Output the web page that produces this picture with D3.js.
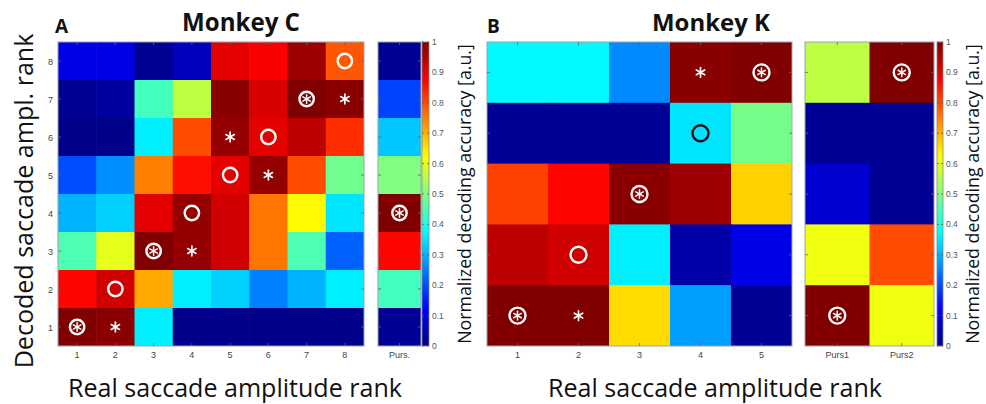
<!DOCTYPE html>
<html><head><meta charset="utf-8">
<script src="https://cdn.jsdelivr.net/npm/d3@7"></script>
<style>body{margin:0;background:#fff} svg{display:block}</style>
</head><body>
<svg id="chart" width="986" height="404"></svg>
<script>
// ---------- DATA ----------
const realRanksC = ["1","2","3","4","5","6","7","8"];
const decodedRanksC = ["8","7","6","5","4","3","2","1"];
const valuesC = [
  [0.10,0.10,0.02,0.06,0.90,0.88,0.97,0.79],
  [0.02,0.03,0.44,0.56,0.99,0.91,1.00,0.99],
  [0.01,0.01,0.36,0.80,0.98,0.90,0.94,0.83],
  [0.20,0.265,0.75,0.86,0.90,0.98,0.80,0.485],
  [0.30,0.33,0.90,0.98,0.92,0.76,0.63,0.35],
  [0.45,0.60,1.00,0.98,0.92,0.76,0.45,0.22],
  [0.87,0.92,0.71,0.36,0.33,0.25,0.30,0.36],
  [1.00,0.99,0.36,0.01,0.01,0.01,0.01,0.01]
];
const pursuitColsC = ["Purs."];
const pursuitValuesC = [[0.02],[0.19],[0.32],[0.50],[1.00],[0.87],[0.44],[0.02]];
// markers: [decoded rank, real rank, type]  o = circle, a = asterisk, oa = circled asterisk, ob = black circle
const markersC = [
  ["8","8","o"],["7","7","oa"],["7","8","a"],["6","5","a"],["6","6","o"],
  ["5","5","o"],["5","6","a"],["4","4","o"],["3","3","oa"],["3","4","a"],
  ["2","2","o"],["1","1","oa"],["1","2","a"]
];
const pursuitMarkersC = [["4","Purs.","oa"]];

const realRanksK = ["1","2","3","4","5"];
const decodedRanksK = ["5","4","3","2","1"];
const valuesK = [
  [0.37,0.37,0.26,0.99,1.00],
  [0.02,0.02,0.02,0.35,0.49],
  [0.81,0.87,0.99,0.97,0.67],
  [0.94,0.92,0.36,0.04,0.10],
  [1.00,1.00,0.66,0.28,0.02]
];
const pursuitColsK = ["Purs1","Purs2"];
const pursuitValuesK = [
  [0.56,1.00],
  [0.02,0.02],
  [0.08,0.02],
  [0.61,0.80],
  [1.00,0.61]
];
const markersK = [
  ["5","4","a"],["5","5","oa"],["4","4","ob"],["3","3","oa"],
  ["2","2","o"],["1","1","oa"],["1","2","a"]
];
const pursuitMarkersK = [["5","Purs2","oa"],["1","Purs1","oa"]];

const colorbarTicks = [0,0.1,0.2,0.3,0.4,0.5,0.6,0.7,0.8,0.9,1];
const titles = ["Monkey C","Monkey K"];
const panelLetters = ["A","B"];
const xLabel = "Real saccade amplitude rank";
const yLabel = "Decoded saccade ampl. rank";
const cbLabel = "Normalized decoding accuracy [a.u.]";

// ---------- HELPERS ----------
function jet(v){
  v = Math.max(0, Math.min(1, v));
  let r,g,b;
  if (v < 0.125){ r=0; g=0; b=0.5+4*v; }
  else if (v < 0.375){ r=0; g=4*(v-0.125); b=1; }
  else if (v < 0.625){ r=4*(v-0.375); g=1; b=1-4*(v-0.375); }
  else if (v < 0.875){ r=1; g=1-4*(v-0.625); b=0; }
  else { r=1-4*(v-0.875); g=0; b=0; }
  return d3.rgb(r*255,g*255,b*255).toString();
}
const svg = d3.select("#chart");
const FONT = "'Open Sans', 'Noto Sans', sans-serif";
const TICKFONT = "'Liberation Sans', Arial, sans-serif";
const frameColor = "#9aa2b4";

function fit(sel, width){
  const w = sel.node().getComputedTextLength();
  const fs = parseFloat(sel.attr("font-size"));
  sel.attr("font-size", fs*width/w);
  return sel;
}

function heat(x0,x1,y0,y1,cols,rows,vals,opts){
  const g = svg.append("g");
  const x = d3.scaleBand().domain(cols).range([x0,x1]);
  const y = d3.scaleBand().domain(rows).range([y0,y1]);
  const cells = [];
  rows.forEach((r,i)=>cols.forEach((c,j)=>cells.push({r,c,v:vals[i][j]})));
  g.selectAll("rect.cell").data(cells).join("rect")
    .attr("x", d=>x(d.c)).attr("y", d=>y(d.r))
    .attr("width", x.bandwidth()+0.6).attr("height", y.bandwidth()+0.6)
    .attr("fill", d=>jet(d.v));
  g.append("rect").attr("x",x1).attr("y",y0).attr("width",1).attr("height",y1-y0+1).attr("fill","#fff");
  g.append("rect").attr("x",x0).attr("y",y1).attr("width",x1-x0+1).attr("height",1).attr("fill","#fff");
  g.append("rect").attr("x",x0).attr("y",y0).attr("width",x1-x0).attr("height",y1-y0)
    .attr("fill","none").attr("stroke",frameColor).attr("stroke-width",1);
  const tl = 3;
  cols.forEach(c=>{
    const cx = x(c)+x.bandwidth()/2;
    g.append("line").attr("x1",cx).attr("x2",cx).attr("y1",y1).attr("y2",y1-tl).attr("stroke","#666").attr("stroke-width",0.8);
    g.append("line").attr("x1",cx).attr("x2",cx).attr("y1",y0).attr("y2",y0+tl).attr("stroke","#666").attr("stroke-width",0.8);
  });
  rows.forEach(r=>{
    const cy = y(r)+y.bandwidth()/2;
    g.append("line").attr("y1",cy).attr("y2",cy).attr("x1",x0).attr("x2",x0+tl).attr("stroke","#666").attr("stroke-width",0.8);
    g.append("line").attr("y1",cy).attr("y2",cy).attr("x1",x1).attr("x2",x1-tl).attr("stroke","#666").attr("stroke-width",0.8);
  });
  g.append("g").selectAll("text").data(cols).join("text")
    .attr("x", c=>x(c)+x.bandwidth()/2).attr("y", y1+12)
    .attr("text-anchor","middle").attr("font-family",TICKFONT).attr("font-size",9)
    .attr("fill","#444").text(c=>c);
  if (opts.yTicks){
    g.append("g").selectAll("text").data(rows).join("text")
      .attr("x", x0-5).attr("y", r=>y(r)+y.bandwidth()/2+3.5)
      .attr("text-anchor","end").attr("font-family",TICKFONT).attr("font-size",9)
      .attr("fill","#444").text(r=>r);
  }
  return {g,x,y};
}

function drawMarkers(h, list, rOuter){
  list.forEach(([r,c,t])=>{
    const cx = h.x(c)+h.x.bandwidth()/2, cy = h.y(r)+h.y.bandwidth()/2;
    const col = t==="ob" ? "#111" : "#fff";
    if (t==="o" || t==="oa" || t==="ob"){
      h.g.append("circle").attr("cx",cx).attr("cy",cy).attr("r",rOuter)
        .attr("fill","none").attr("stroke",col).attr("stroke-width",2.4);
    }
    if (t==="a" || t==="oa"){
      const a = t==="a" ? 4.8 : 4.3;
      const sw = t==="a" ? 1.7 : 1.5;
      [90,30,-30].forEach(deg=>{
        const rad = deg*Math.PI/180;
        h.g.append("line")
          .attr("x1",cx-a*Math.cos(rad)).attr("y1",cy-a*Math.sin(rad))
          .attr("x2",cx+a*Math.cos(rad)).attr("y2",cy+a*Math.sin(rad))
          .attr("stroke","#fff").attr("stroke-width",sw).attr("stroke-linecap","round");
      });
    }
  });
}

const defs = svg.append("defs");
const grad = defs.append("linearGradient").attr("id","jetGrad")
  .attr("x1","0").attr("y1","1").attr("x2","0").attr("y2","0");
d3.range(0,1.0001,0.02).forEach(t=>{
  grad.append("stop").attr("offset",t).attr("stop-color",jet(t));
});

function colorbar(x0,x1,y0,y1){
  const g = svg.append("g");
  const s = d3.scaleLinear().domain([0,1]).range([y1,y0]);
  g.append("rect").attr("x",x0).attr("y",y0).attr("width",x1-x0).attr("height",y1-y0)
    .attr("fill","url(#jetGrad)").attr("stroke","#888").attr("stroke-width",0.8);
  colorbarTicks.forEach(t=>{
    g.append("line").attr("x1",x1).attr("x2",x1-2).attr("y1",s(t)).attr("y2",s(t)).attr("stroke","#555").attr("stroke-width",0.7);
    g.append("line").attr("x1",x0).attr("x2",x0+2).attr("y1",s(t)).attr("y2",s(t)).attr("stroke","#555").attr("stroke-width",0.7);
  });
  g.selectAll("text").data(colorbarTicks).join("text")
    .attr("x", x1+3).attr("y", t=>s(t)+3)
    .attr("font-family",TICKFONT).attr("font-size",8.5).attr("fill","#555")
    .text(t=>String(t));
}

// ---------- PANEL A ----------
const hC = heat(58,364,42,346,realRanksC,decodedRanksC,valuesC,{yTicks:true});
drawMarkers(hC, markersC, 7.2);
const pC = heat(378,421,42,346,pursuitColsC,decodedRanksC,pursuitValuesC,{yTicks:false});
drawMarkers(pC, pursuitMarkersC, 7.2);
colorbar(422,429,42,346);

// ---------- PANEL B ----------
const hK = heat(487,792,42,346,realRanksK,decodedRanksK,valuesK,{yTicks:false});
drawMarkers(hK, markersK, 8);
const pK = heat(805,934,42,346,pursuitColsK,decodedRanksK,pursuitValuesK,{yTicks:false});
drawMarkers(pK, pursuitMarkersK, 8);
colorbar(937,943,42,346);

// ---------- TEXT ----------
[[241,titles[0]],[711,titles[1]]].forEach(([cx,t])=>{
  fit(svg.append("text").attr("x",cx).attr("y",31).attr("text-anchor","middle")
    .attr("font-family",FONT).attr("font-weight","bold").attr("font-size",22).attr("fill","#111").text(t),118);
});
[[55,panelLetters[0]],[487,panelLetters[1]]].forEach(([x,t])=>{
  svg.append("text").attr("x",x).attr("y",33)
    .attr("font-family",FONT).attr("font-weight","bold").attr("font-size",19).attr("fill","#111").text(t);
});
[235,715].forEach(cx=>{
  fit(svg.append("text").attr("x",cx).attr("y",397).attr("text-anchor","middle")
    .attr("font-family",FONT).attr("font-size",22).attr("fill","#111").text(xLabel),334);
});
fit(svg.append("text").attr("transform","translate(33,201) rotate(-90)").attr("text-anchor","middle")
  .attr("font-family",FONT).attr("font-size",26).attr("fill","#111").text(yLabel),335);
[471,979].forEach(bx=>{
  fit(svg.append("text").attr("transform",`translate(${bx},194) rotate(-90)`).attr("text-anchor","middle")
    .attr("font-family",FONT).attr("font-size",18).attr("fill","#111").text(cbLabel),300);
});
</script>
</body></html>
